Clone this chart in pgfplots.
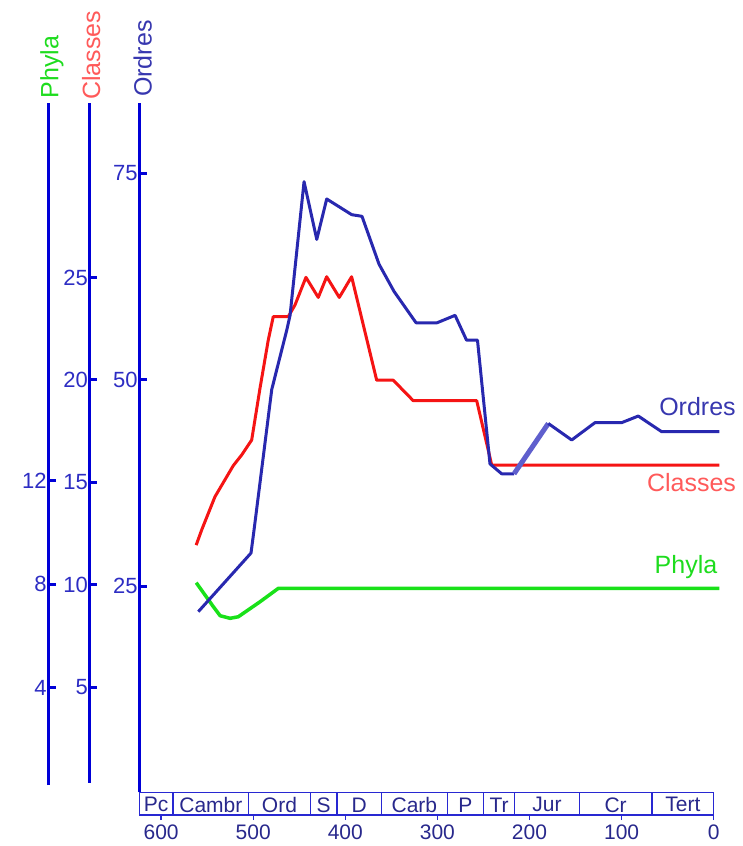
\documentclass[border=0pt]{standalone}
\usepackage{fontspec}
\setmainfont{Liberation Sans}
\usepackage{pgfplots}
\pgfplotsset{compat=1.18}
\definecolor{axblue}{RGB}{0,0,215}
\definecolor{tlblue}{RGB}{45,45,195}
\definecolor{ordc}{RGB}{40,40,175}
\definecolor{ordthick}{RGB}{95,95,205}
\definecolor{clsc}{RGB}{245,20,20}
\definecolor{phyc}{RGB}{25,225,25}
\definecolor{boxc}{RGB}{40,40,210}
\definecolor{navy}{RGB}{40,40,140}
\definecolor{ordlab}{RGB}{55,55,175}
\definecolor{clslab}{RGB}{255,90,90}
\definecolor{phylab}{RGB}{30,220,30}
\begin{document}
\begin{tikzpicture}
\useasboundingbox (0pt,0pt) rectangle (743pt,846pt);
\pgfplotsset{
  ax/.style={scale only axis, clip=false, x dir=reverse, xmin=0,
    axis x line=none, axis y line*=left,
    y axis line style={line width=3pt, draw=axblue, -},
    ytick style={line width=3pt, draw=axblue},
    tick align=inside, major tick length=8pt,
    yticklabel style={font=\fontsize{22}{24}\selectfont, text=tlblue, inner sep=1.5pt},
    /pgf/number format/assume math mode=true,
    anchor=south west},
}
% Phyla axis
\begin{axis}[ax, at={(48.3pt,61pt)}, width=665.4pt, height=682pt,
  xmax=722.5, ymin=0.23, ymax=26.62, ytick={4,8,12}]
\addplot[phyc, line width=3.5pt, line join=round] coordinates {
(561.9,8.06) (543.3,7.13) (535.9,6.78) (525.1,6.68) (516.2,6.74)
(492.6,7.32) (472.7,7.84) (-6.1,7.84)};
\end{axis}
% Classes axis
\begin{axis}[ax, at={(89.5pt,63pt)}, width=624.2pt, height=680pt,
  xmax=677.7, ymin=0.33, ymax=33.52, ytick={5,10,15,20,25}]
\addplot[clsc, line width=3pt, line join=round] coordinates {
(561.9,11.94) (555.9,12.68) (541.5,14.30) (521.6,15.82) (512.5,16.34)
(501.6,17.07) (492.6,19.59) (483.6,21.95) (478.2,23.09) (461.9,23.09)
(454.6,23.66) (442.7,25.01) (429.3,24.03) (420.2,25.04) (406.5,24.03)
(393.1,25.04) (365.9,19.99) (347.9,19.99) (326.2,18.99) (257.3,18.99)
(241.0,15.85) (-6.1,15.85)};
\end{axis}
% Ordres axis (main)
\begin{axis}[ax, at={(139.3pt,53.6pt)}, width=574.4pt, height=689.4pt,
  xmax=623.7, ymin=0, ymax=83.53, ytick={25,50,75}]
\addplot[ordc, line width=3pt, line join=round] coordinates {
(559.6,21.9) (502.4,29.0) (499.1,31.8) (479.9,48.8) (474.5,51.2)
(463.6,56.0) (460.0,57.8) (444.8,74.0) (431.0,67.0) (420.2,71.9)
(393.1,70.0) (381.9,69.8) (363.4,64.0) (347.1,60.7) (323.2,56.9)
(300.4,56.9) (280.8,57.8) (268.4,54.8) (256.5,54.8) (242.9,39.8)
(230.2,38.6) (216.8,38.6)};
\addplot[ordthick, line width=5pt, line join=round] coordinates {
(216.8,38.6) (179.6,44.7)};
\addplot[ordc, line width=3pt, line join=round] coordinates {
(179.6,44.7) (154.2,42.7) (128.9,44.8) (99.9,44.8) (81.9,45.6)
(56.5,43.7) (-6.1,43.7)};
\node[text=ordlab, font=\fontsize{25}{27}\selectfont] at (axis cs:17.6,46.7) {Ordres};
\node[text=clslab, font=\fontsize{25}{27}\selectfont] at (axis cs:24.1,37.5) {Classes};
\node[text=phylab, font=\fontsize{25}{27}\selectfont] at (axis cs:30.1,27.3) {Phyla};
\end{axis}
% Period box
\begin{axis}[scale only axis, clip=false, at={(139.3pt,31pt)}, anchor=south west,
  width=574.4pt, height=22.7pt, x dir=reverse, xmin=0, xmax=623.7, ymin=0, ymax=1,
  ytick=\empty, xtick={0,100,...,600}, xtick pos=bottom, tick align=outside,
  major tick length=5pt,
  axis line style={draw=boxc, line width=1.3pt},
  xtick style={draw=boxc, line width=1.3pt},
  xticklabel style={font=\fontsize{21}{23}\selectfont, text=navy, inner sep=1pt, yshift=-4pt},
  /pgf/number format/assume math mode=true]
\addplot[ycomb, boxc, no marks, line width=1.3pt] coordinates {
(587,1) (505,1) (438,1) (409,1) (361,1) (289,1) (250,1) (216,1) (146,1) (67,1)};
\begin{scope}[every node/.style={text=navy, font=\fontsize{21}{23}\selectfont}]
\node at (axis cs:605.4,0.45) {Pc};
\node at (axis cs:546,0.45) {Cambr};
\node at (axis cs:471.5,0.45) {Ord};
\node at (axis cs:423.5,0.45) {S};
\node at (axis cs:385,0.45) {D};
\node at (axis cs:325,0.45) {Carb};
\node at (axis cs:269.5,0.45) {P};
\node at (axis cs:233,0.45) {Tr};
\node at (axis cs:181,0.45) {Jur};
\node at (axis cs:106.5,0.45) {Cr};
\node at (axis cs:33.5,0.45) {Tert};
\end{scope}
\end{axis}
% vertical axis titles
\node[rotate=90, anchor=base west, text=phylab, font=\fontsize{25}{27}\selectfont, inner sep=0pt] at (58.3pt,747.5pt) {Phyla};
\node[rotate=90, anchor=base west, text=clslab, font=\fontsize{25}{27}\selectfont, inner sep=0pt] at (100pt,746pt) {Classes};
\node[rotate=90, anchor=base west, text=ordlab, font=\fontsize{25}{27}\selectfont, inner sep=0pt] at (151.7pt,749pt) {Ordres};
\end{tikzpicture}
\end{document}
